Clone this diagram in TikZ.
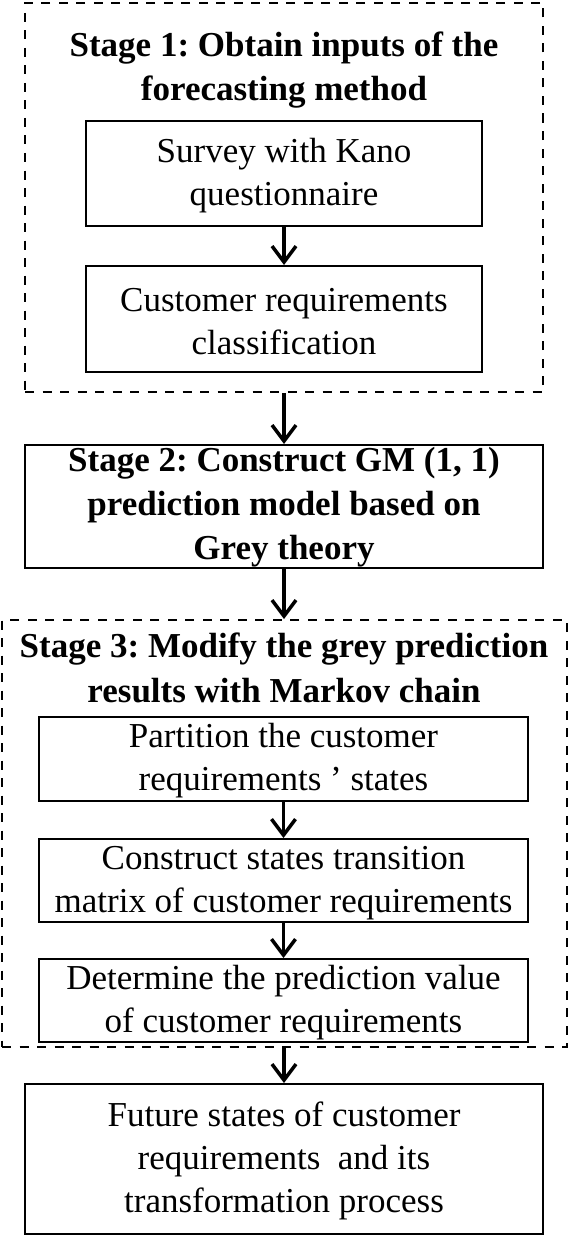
\documentclass[tikz,border=0pt]{standalone}
\usepackage{fontspec}
\setmainfont{Liberation Serif}
\usetikzlibrary{arrows.meta}
\frenchspacing
\begin{document}
\begin{tikzpicture}[x=1pt,y=-1pt,
  every node/.style={font=\fontsize{35}{43}\selectfont\frenchspacing, align=center, inner sep=0pt},
  solidbox/.style={draw, line width=2pt},
  dbox/.style={draw, line width=2pt, dash pattern=on 9pt off 8.5pt},
  title/.style={font=\fontsize{35}{44.5}\selectfont\bfseries\frenchspacing},
  flow/.style={line width=3.5pt, -{Straight Barb[length=16pt,width=24pt]}}]
\useasboundingbox (0,0) rectangle (568,1236);

% Stage 1 container
\node[dbox, minimum width=518, minimum height=389] (s1) at (284,197.5) {};
\node[title] (t1) at (284,70) {Stage 1: Obtain inputs of the\\forecasting method};
\node[solidbox, minimum width=396, minimum height=105] (survey) at (284,173.5) {\rule{0pt}{28pt}Survey with Kano\\questionnaire};
\node[solidbox, minimum width=396, minimum height=106] (classif) at (284,319) {\rule{0pt}{28pt}Customer requirements\\classification};

% Stage 2
\node[solidbox, font=\fontsize{35}{44}\selectfont\bfseries\frenchspacing, minimum width=518, minimum height=123] (s2) at (284,506.5) {\rule{0pt}{26pt}Stage 2: Construct GM (1, 1)\\prediction model based on\\Grey theory};

% Stage 3 container
\node[dbox, minimum width=565, minimum height=427] (s3) at (284.5,833.5) {};
\node[title] (t3) at (284,668) {Stage 3: Modify the grey prediction\\results with Markov chain};
\node[solidbox, minimum width=489, minimum height=84] (part) at (283.5,759) {\rule{0pt}{28pt}Partition the customer\\requirements ’ states};
\node[solidbox, minimum width=489, minimum height=83] (trans) at (283.5,880.5) {\rule{0pt}{28pt}Construct states transition\\matrix of customer requirements};
\node[solidbox, minimum width=489, minimum height=83] (pred) at (283.5,1000.5) {\rule{0pt}{28pt}Determine the prediction value\\of customer requirements};

% Output
\node[solidbox, minimum width=518, minimum height=150] (future) at (284,1159) {\rule{0pt}{28pt}Future states of customer\\requirements\ \ and its\\transformation process};

% Connectors
\draw[flow] (survey.south) -- (classif.north);
\draw[flow] (s1.south) -- (s2.north);
\draw[flow] (s2.south) -- (s2.south |- s3.north);
\draw[flow] (part.south) -- (trans.north);
\draw[flow] (trans.south) -- (pred.north);
\draw[flow] (future.north |- s3.south) -- (future.north);
\end{tikzpicture}
\end{document}
